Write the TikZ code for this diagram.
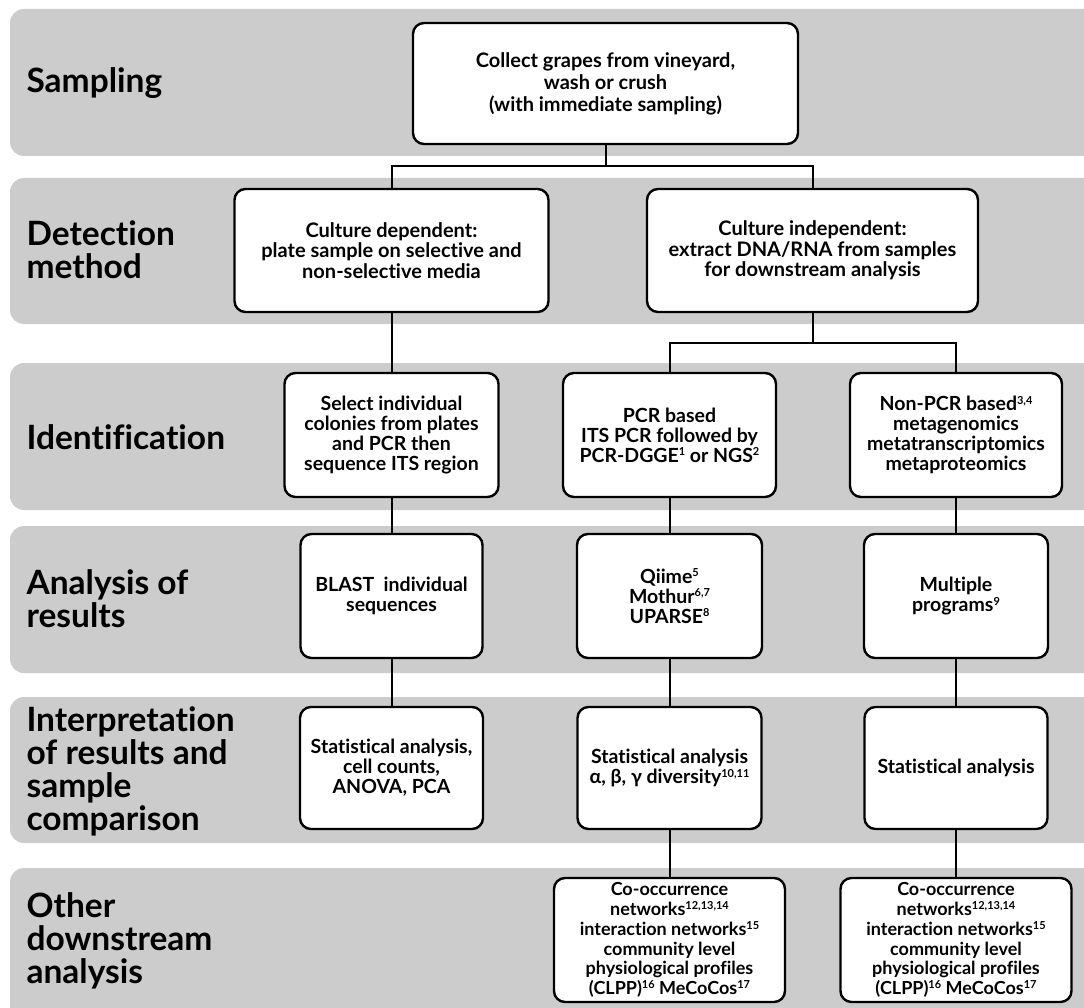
\documentclass[tikz,border=0pt]{standalone}
\usepackage{fontspec}
\setmainfont{Lato}[Ligatures={NoCommon}]
\newcommand\supx[1]{\raisebox{0.32em}{\fontsize{11}{11}\selectfont #1}}
\begin{document}
\begin{tikzpicture}[x=1pt,y=-1pt,
  band/.style={fill=bandgray, draw=none, rounded corners=14pt},
  box/.style={draw=black, line width=2.4pt, fill=white, rounded corners=11pt, align=center,
     font=\fontsize{19.5}{20}\selectfont\bfseries, inner sep=1pt},
  lab/.style={anchor=west, align=left, font=\fontsize{33.5}{33}\selectfont\bfseries},
  conn/.style={line width=2pt, draw=black}]
\definecolor{bandgray}{RGB}{204,204,204}
\clip (0,0) rectangle (1084,1008);
\fill[white] (0,0) rectangle (1084,1008);
% bands
\fill[band] (10,9) rectangle (1120,156);
\fill[band] (10,178) rectangle (1120,324);
\fill[band] (10,363) rectangle (1120,510);
\fill[band] (10,526) rectangle (1120,673);
\fill[band] (10,697) rectangle (1120,843);
\fill[band] (10,868) rectangle (1120,1040);
% labels
\node[lab] (l1) at (23,83) {Sampling};
\node[lab] (l2) at (23,250) {Detection\\method};
\node[lab] (l3) at (23,437) {Identification};
\node[lab] (l4) at (23,599) {Analysis of\\results};
\node[lab] (l5) at (23,771) {Interpretation\\of results and\\sample\\comparison};
\node[lab] (l6) at (23,941) {Other\\downstream\\analysis};
% boxes
\node[box, minimum width=385pt, minimum height=121pt, font=\fontsize{20}{22}\selectfont\bfseries] (top) at (605.5,83.5)
  {Collect grapes from vineyard,\\wash or crush\\(with immediate sampling)};
\node[box, minimum width=314pt, minimum height=123pt, font=\fontsize{20}{20.5}\selectfont\bfseries] (cdep) at (391.5,250.5)
  {Culture dependent:\\plate sample on selective and\\non-selective media};
\node[box, minimum width=331pt, minimum height=123pt, font=\fontsize{20}{20.5}\selectfont\bfseries] (cind) at (812.5,250.5)
  {Culture independent:\\extract DNA/RNA from samples\\for downstream analysis};
\node[box, minimum width=214pt, minimum height=124pt] (id1) at (391.5,435)
  {Select individual\\colonies from plates\\and PCR then\\sequence ITS region};
\node[box, minimum width=213pt, minimum height=124pt] (id2) at (669.5,435)
  {PCR based\\ITS PCR followed by\\PCR-DGGE\supx{1} or NGS\supx{2}};
\node[box, minimum width=212pt, minimum height=124pt] (id3) at (956,435)
  {Non-PCR based\supx{3,4}\\metagenomics\\metatranscriptomics\\metaproteomics};
\node[box, minimum width=182pt, minimum height=124pt] (an1) at (391.5,596)
  {BLAST\ \ individual\\sequences};
\node[box, minimum width=185pt, minimum height=124pt] (an2) at (669.5,596)
  {Qiime\supx{5}\\Mothur\supx{6,7}\\UPARSE\supx{8}};
\node[box, minimum width=184pt, minimum height=124pt] (an3) at (956,596)
  {Multiple\\programs\supx{9}};
\node[box, minimum width=183pt, minimum height=122pt] (in1) at (391.5,768)
  {Statistical analysis,\\cell counts,\\ANOVA, PCA};
\node[box, minimum width=184pt, minimum height=122pt] (in2) at (669.5,768)
  {Statistical analysis\\α, β, γ diversity\supx{10,11}};
\node[box, minimum width=183pt, minimum height=122pt] (in3) at (956,768)
  {Statistical analysis};
\node[box, minimum width=231pt, minimum height=124pt, font=\fontsize{18}{19.8}\selectfont\bfseries] (ot1) at (669.5,940)
  {Co-occurrence\\networks\supx{12,13,14}\\interaction networks\supx{15}\\community level\\physiological profiles\\(CLPP)\supx{16} MeCoCos\supx{17}};
\node[box, minimum width=231pt, minimum height=124pt, font=\fontsize{18}{19.8}\selectfont\bfseries] (ot2) at (956,940)
  {Co-occurrence\\networks\supx{12,13,14}\\interaction networks\supx{15}\\community level\\physiological profiles\\(CLPP)\supx{16} MeCoCos\supx{17}};
% connectors
\coordinate (j1) at (605.5,166);
\coordinate (j2) at (812.5,343);
\draw[conn] (top.south) -- (j1);
\draw[conn] (cdep.north) |- (j1) -| (cind.north);
\draw[conn] (cind.south) -- (j2);
\draw[conn] (id2.north) |- (j2) -| (id3.north);
\draw[conn] (cdep.south) -- (id1.north);
\draw[conn] (id1.south) -- (an1.north);
\draw[conn] (id2.south) -- (an2.north);
\draw[conn] (id3.south) -- (an3.north);
\draw[conn] (an1.south) -- (in1.north);
\draw[conn] (an2.south) -- (in2.north);
\draw[conn] (an3.south) -- (in3.north);
\draw[conn] (in2.south) -- (ot1.north);
\draw[conn] (in3.south) -- (ot2.north);
\end{tikzpicture}
\end{document}
